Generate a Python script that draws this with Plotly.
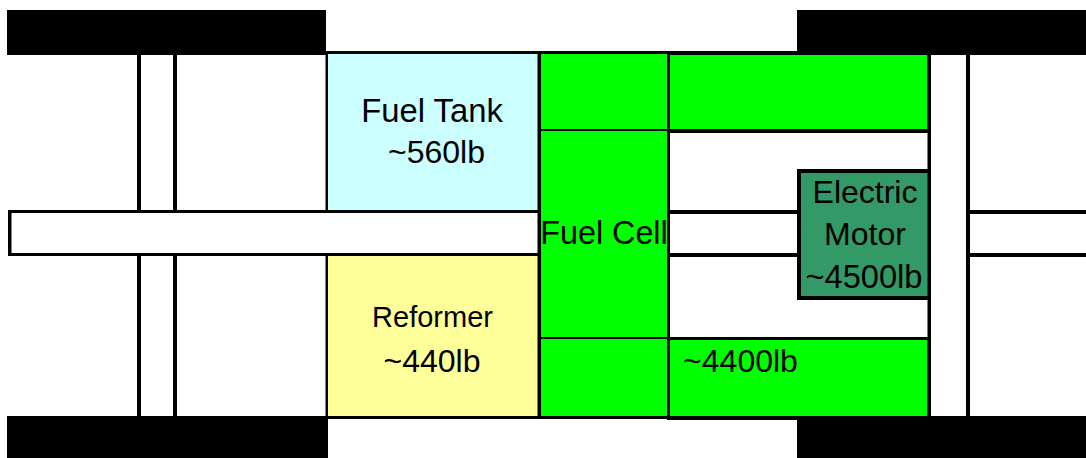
import plotly.graph_objects as go

# drive train layout in pixel units
part_names = ["axle left a", "axle left b", "axle right b",
              "wheel tl", "wheel bl", "wheel tr", "wheel br",
              "shaft frame", "shaft inner",
              "shaft mid top", "shaft mid bottom", "shaft right top", "shaft right bottom",
              "tank frame", "tank", "reformer frame", "reformer",
              "cell frame", "cell", "cell line top", "cell line bottom",
              "stack top frame", "stack top", "stack bottom frame", "stack bottom",
              "right rail", "motor frame", "motor"]
part_x0 = [137, 173, 966, 7, 7, 797, 797, 8, 11.5, 670, 670, 970, 970,
           325.5, 328, 325.5, 328, 537.5, 541, 541, 541,
           667, 670, 667, 670, 927.5, 797, 801]
part_x1 = [141, 177, 970, 326, 328, 1086, 1086, 538, 538, 797, 797, 1086, 1086,
           538, 538, 538, 538, 670, 667, 667, 667,
           931, 927.5, 931, 927.5, 931, 931, 927.5]
part_y0 = [55, 55, 55, 10, 416, 10, 416, 210, 213, 210, 253, 210, 253,
           51, 54, 253, 256, 51, 54, 129, 337,
           51, 55, 337, 340, 51, 169, 173]
part_y1 = [416, 416, 416, 55, 458, 55, 458, 256, 253, 214, 257, 214, 257,
           210, 210, 419, 416, 419, 416, 131, 339,
           133, 129, 420, 416, 416, 300, 296]
part_fill = ["#000000", "#000000", "#000000",
             "#000000", "#000000", "#000000", "#000000",
             "#000000", "#ffffff",
             "#000000", "#000000", "#000000", "#000000",
             "#000000", "#ccffff", "#000000", "#ffff99",
             "#000000", "#00ff00", "#000000", "#000000",
             "#000000", "#00ff00", "#000000", "#00ff00",
             "#000000", "#000000", "#339966"]

labels = ["Fuel Tank", "~560lb", "Reformer", "~440lb", "Fuel Cell",
          "Electric", "Motor", "~4500lb", "~4400lb"]
label_x = [432, 436.5, 432.5, 432, 604, 865, 865, 864, 740.5]
label_y = [114, 155, 320, 364, 236, 195, 237, 280, 364]
label_size = [32.8, 32, 29, 32, 32.3, 32, 32, 32.6, 32]

fig = go.Figure()

for name, x0, x1, y0, y1, fill in zip(part_names, part_x0, part_x1, part_y0, part_y1, part_fill):
    fig.add_trace(go.Scatter(
        x=[x0, x1, x1, x0, x0], y=[y0, y0, y1, y1, y0],
        mode="lines", fill="toself", fillcolor=fill, line=dict(width=0),
        name=name, hoverinfo="skip",
    ))

fig.add_trace(go.Scatter(
    x=label_x, y=label_y, text=labels, mode="text", textposition="middle center",
    textfont=dict(family="Liberation Sans", size=label_size, color="#000000"),
    hoverinfo="skip",
))

fig.update_layout(
    width=1086, height=458, margin=dict(l=0, r=0, t=0, b=0),
    paper_bgcolor="#ffffff", plot_bgcolor="#ffffff", showlegend=False,
    xaxis=dict(range=[0, 1086], visible=False, fixedrange=True),
    yaxis=dict(range=[458, 0], visible=False, fixedrange=True),
)
fig.write_html("out.html", config={"displayModeBar": False},
               post_script="document.body.style.margin='0';document.body.style.overflow='hidden';")
